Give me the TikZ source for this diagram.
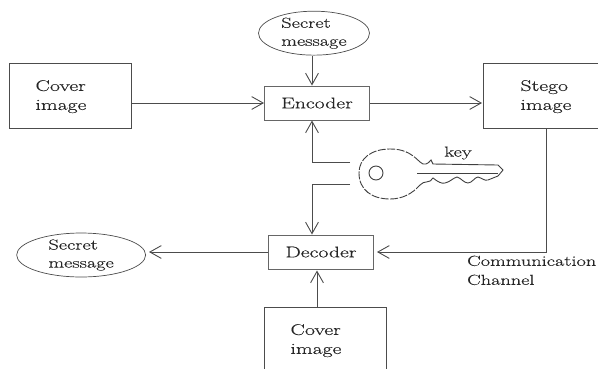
\documentclass[tikz,border=0pt]{standalone}
\usepackage{fontspec}
\setmainfont[FakeStretch=1.4,FakeBold=0.4]{Latin Modern Roman}
\usepackage{xcolor}
\usetikzlibrary{shapes.geometric, arrows.meta, positioning}

\begin{document}
\begin{tikzpicture}[
    x=1pt, y=-1pt,
    imagebox/.style={rectangle, draw=black!70, line width=1pt, minimum height=65pt, inner xsep=26pt, text width=70pt, align=left, text=black!85, font=\fontsize{15.5}{19}\selectfont, execute at begin node={\rule{0pt}{13pt}}},
    codebox/.style={rectangle, draw=black!60, line width=1pt, minimum width=105pt, minimum height=34pt, text=black!85, font=\fontsize{15.5}{19}\selectfont},
    secretbox/.style={ellipse, draw=black!70, line width=0.7pt, minimum width=129pt, minimum height=41pt, inner sep=0pt, align=left, text=black!85, font=\fontsize{14.5}{18}\selectfont},
    arrow/.style={-{Straight Barb[length=4mm, width=4.5mm]}, line width=0.9pt, draw=black!70},
    keyline/.style={line width=0.9pt, draw=black!75},
]
    \useasboundingbox (0,0) rectangle (598,368);
    \clip (0,0) rectangle (598,368);

    \node[codebox] (encoder) at (317,103) {Encoder};
    \node[secretbox, minimum width=111pt, above=33pt of encoder, xshift=-3pt, yshift=-3pt] (secreta) {Secret\\message};
    \node[imagebox, left=132pt of encoder, yshift=7.5pt] (covera) {Cover\\image};
    \node[imagebox, inner xsep=37pt, text width=46pt, right=113pt of encoder, yshift=7.5pt] (stego) {Stego\\image};
    \node[codebox, below=114pt of encoder, xshift=4pt] (decoder) {Decoder};
    \node[secretbox, left=122pt of decoder, yshift=-3pt] (secretb) {Secret\\message};
    \node[imagebox, below=37pt of decoder, xshift=4.5pt] (coverb) {Cover\\image};
    \node[right=93pt of decoder.south east, anchor=north west, inner sep=0pt, align=left, text=black!85, font=\fontsize{14.5}{19}\selectfont, yshift=14pt] (channel) {Communication\\Channel};
    \node[inner sep=0pt, text=black!85, font=\fontsize{14.5}{19}\selectfont] (keylabel) at (458,153) {key};

    \coordinate (keyup) at (350,162);
    \coordinate (keydown) at (350,184);

    % key
    \draw[keyline, dash pattern=on 8pt off 1.5pt] (420,162) .. controls (410,152) and (402,149) .. (390,149) .. controls (372,149) and (359,158) .. (359,173) .. controls (359,190) and (372,199) .. (390,199) .. controls (402,199) and (412,194) .. (420,185);
    \draw[keyline] (376,173) circle (7);
    \draw[keyline] (420,162) .. controls (424,166) and (428,164) .. (431,160) -- (433,164) -- (498,165) -- (503,170) -- (498,176);
    \draw[keyline] (420,185) .. controls (424,180) and (430,184) .. (433,178) .. controls (438,182) and (442,184) .. (445,183) .. controls (450,182) and (453,178) .. (457,177) .. controls (461,178) and (464,183) .. (468,183) .. controls (472,183) and (475,177) .. (478,177) .. controls (482,178) and (484,181) .. (488,180) -- (498,176);
    \draw[keyline, line width=0.6pt] (417,173) -- (498,173);

    \draw[arrow] ([xshift=-5pt]encoder.north |- secreta.south) -- ([xshift=-5pt]encoder.north);
    \draw[arrow] (covera.east |- encoder) -- (encoder);
    \draw[arrow, shorten >=1pt] (encoder) -- (encoder -| stego.west);
    \draw[arrow] (keyup) -| ([xshift=-5pt]encoder.south);
    \draw[arrow] (keydown) -| ([xshift=-9pt]decoder.north);
    \draw[arrow, shorten >=3pt] ([xshift=3pt]stego.south) |- (decoder.east);
    \draw[arrow, shorten >=3pt] (decoder.west) -- (decoder.west -| secretb.east);
    \draw[arrow, shorten >=1pt] ([xshift=-8.5pt]coverb.north) -- ([xshift=-4pt]decoder.south);
\end{tikzpicture}
\end{document}
